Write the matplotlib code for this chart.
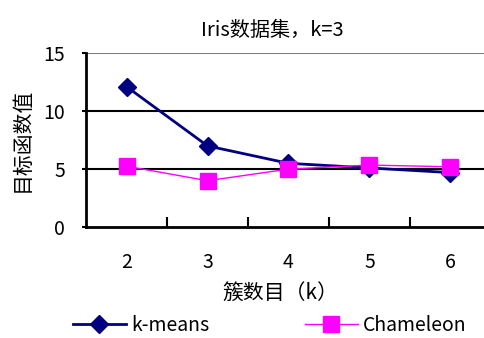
import matplotlib
matplotlib.use("Agg")
import matplotlib.pyplot as plt

plt.rcParams['font.family'] = ['Noto Sans CJK SC', 'DejaVu Sans']

# Data
categories = ["2", "3", "4", "5", "6"]
kmeans = [12.1, 7.0, 5.5, 5.1, 4.7]
chameleon = [5.25, 4.0, 5.0, 5.35, 5.2]
y_ticks = [0, 5, 10, 15]

fig = plt.figure(figsize=(4.84, 3.38), dpi=100)
ax = fig.add_axes([0.178, 0.328, 0.836, 0.515])

x = list(range(len(categories)))
ax.plot(x, kmeans, color="#000080", lw=2, marker="D", ms=9, label="k-means", zorder=3)
ax.plot(x, chameleon, color="#FF00FF", lw=1, marker="s", ms=11, label="Chameleon", zorder=4)

ax.set_xlim(-0.5, len(categories) - 0.5)
ax.set_ylim(0, 15)
ax.set_yticks(y_ticks)
ax.set_xticks(x)
ax.set_xticklabels(categories)
# tick di batas kategori
ax.set_xticks([i + 0.5 for i in x[:-1]], minor=True)
ax.tick_params(axis="x", which="major", length=0, pad=18, labelsize=14)
ax.tick_params(axis="x", which="minor", length=7, width=1.5, direction="in", color="black")
ax.tick_params(axis="y", length=3, width=1.5, direction="out", labelsize=14, pad=12)

for yv in [5, 10]:
    ax.axhline(yv, color="black", lw=1.5, zorder=1)
ax.axhline(15, color="#808080", lw=1.5, zorder=1)

ax.spines["top"].set_visible(False)
ax.spines["right"].set_visible(False)
ax.spines["left"].set_linewidth(2)
ax.spines["bottom"].set_linewidth(2)

ax.set_title("Iris数据集，k=3", fontsize=14.5, pad=12, x=0.46)
ax.set_xlabel("簇数目（k）", fontsize=15, labelpad=6, x=0.48)
ax.set_ylabel("目标函数值", fontsize=15, labelpad=8)

fig.legend(loc="lower left", bbox_to_anchor=(0.115, -0.045), ncol=2, frameon=False,
           fontsize=14, handlelength=2.7, columnspacing=4.9, handletextpad=0.3)

fig.savefig("out.png", dpi=100)
